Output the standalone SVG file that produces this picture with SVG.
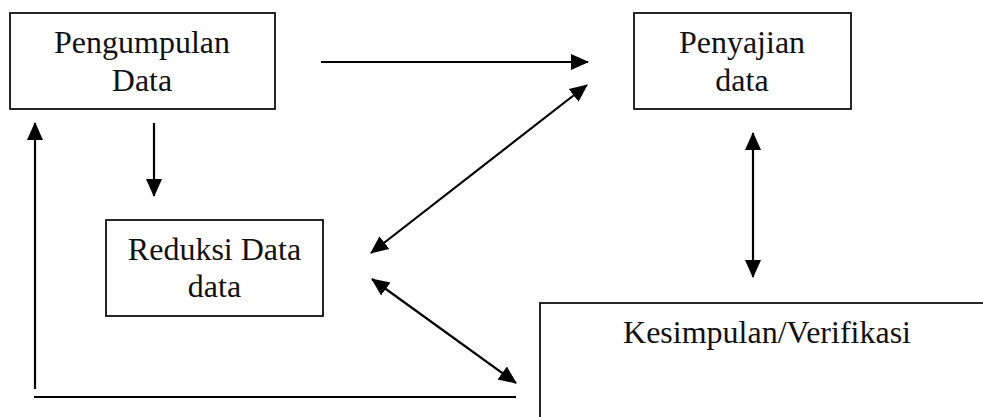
<svg xmlns="http://www.w3.org/2000/svg" width="983" height="417" viewBox="0 0 983 417">
<style>
.box{fill:none;stroke:#000;stroke-width:1.7}
.t{font-family:"Liberation Serif","Times New Roman",serif;font-size:32px;fill:#111;text-anchor:middle}
.c{stroke:#000;stroke-width:2.2;fill:none}
.a{marker-end:url(#ah)}
.d{marker-start:url(#ah);marker-end:url(#ah)}
</style>
<defs>
<marker id="ah" markerUnits="userSpaceOnUse" markerWidth="18" markerHeight="18" viewBox="0 0 18 18" refX="17" refY="9" orient="auto-start-reverse">
<path d="M0,1 L18,9 L0,17 z" fill="#000"/>
</marker>
</defs>
<rect width="983" height="417" fill="#fff"/>
<g id="pengumpulan">
<rect class="box" x="10" y="13" width="265" height="96"/>
<text class="t" x="142" y="53">Pengumpulan</text>
<text class="t" x="142" y="91">Data</text>
</g>
<g id="penyajian">
<rect class="box" x="634" y="13" width="217" height="96"/>
<text class="t" x="742" y="53">Penyajian</text>
<text class="t" x="742" y="91">data</text>
</g>
<g id="reduksi">
<rect class="box" x="106" y="220" width="217" height="96"/>
<text class="t" x="214.5" y="260">Reduksi Data</text>
<text class="t" x="214.5" y="297">data</text>
</g>
<g id="kesimpulan">
<rect class="box" x="540" y="303" width="460" height="130"/>
<text class="t" x="767" y="343">Kesimpulan/Verifikasi</text>
</g>
<g id="connectors">
<line class="c a" x1="321" y1="62" x2="588" y2="62"/>
<line class="c d" x1="371" y1="253" x2="587" y2="85"/>
<line class="c a" x1="154" y1="123" x2="154" y2="196"/>
<line class="c d" x1="753" y1="133" x2="753" y2="277"/>
<line class="c d" x1="372" y1="279" x2="516" y2="383"/>
<line class="c a" x1="35" y1="389" x2="35" y2="123"/>
<line class="c" x1="34" y1="397" x2="516" y2="397"/>
</g>
</svg>
